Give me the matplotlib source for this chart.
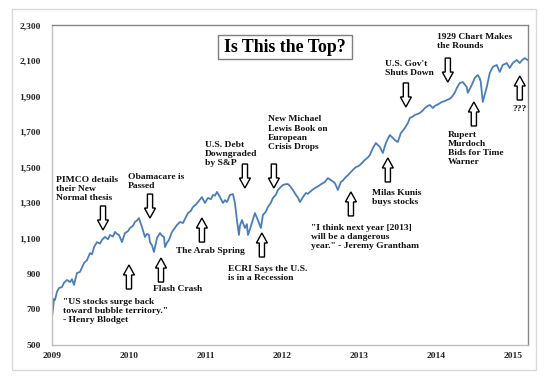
import matplotlib
matplotlib.use("Agg")
import matplotlib.pyplot as plt
import matplotlib.transforms as mtransforms
from matplotlib.patches import Polygon, Rectangle
from matplotlib.ticker import FuncFormatter

# ---------------- data ----------------
years = [
    2009.000, 2009.013, 2009.026, 2009.039, 2009.065, 2009.091, 2009.130, 2009.156, 2009.195, 2009.234,
    2009.260, 2009.286, 2009.325, 2009.364, 2009.390, 2009.417, 2009.456, 2009.495, 2009.521, 2009.547,
    2009.586, 2009.625, 2009.651, 2009.690, 2009.729, 2009.755, 2009.794, 2009.820, 2009.846, 2009.872,
    2009.911, 2009.950, 2009.989, 2010.015, 2010.054, 2010.080, 2010.106, 2010.132, 2010.171, 2010.210,
    2010.236, 2010.262, 2010.276, 2010.302, 2010.328, 2010.367, 2010.406, 2010.432, 2010.458, 2010.471,
    2010.497, 2010.523, 2010.562, 2010.601, 2010.627, 2010.666, 2010.705, 2010.744, 2010.770, 2010.809,
    2010.835, 2010.874, 2010.900, 2010.926, 2010.952, 2010.991, 2011.030, 2011.070, 2011.096, 2011.122,
    2011.148, 2011.187, 2011.226, 2011.252, 2011.278, 2011.317, 2011.356, 2011.382, 2011.408, 2011.434,
    2011.447, 2011.473, 2011.512, 2011.538, 2011.551, 2011.577, 2011.603, 2011.642, 2011.681, 2011.720,
    2011.746, 2011.785, 2011.811, 2011.850, 2011.876, 2011.915, 2011.941, 2011.981, 2012.007, 2012.046,
    2012.072, 2012.098, 2012.137, 2012.176, 2012.202, 2012.228, 2012.267, 2012.306, 2012.332, 2012.358,
    2012.397, 2012.423, 2012.462, 2012.488, 2012.527, 2012.553, 2012.592, 2012.631, 2012.657, 2012.683,
    2012.722, 2012.761, 2012.787, 2012.826, 2012.853, 2012.892, 2012.918, 2012.957, 2012.983, 2013.009,
    2013.048, 2013.074, 2013.113, 2013.139, 2013.178, 2013.217, 2013.243, 2013.269, 2013.308, 2013.347,
    2013.373, 2013.399, 2013.438, 2013.464, 2013.503, 2013.542, 2013.568, 2013.594, 2013.634, 2013.660,
    2013.699, 2013.725, 2013.764, 2013.790, 2013.829, 2013.855, 2013.894, 2013.920, 2013.959, 2013.985,
    2014.011, 2014.050, 2014.076, 2014.115, 2014.141, 2014.180, 2014.206, 2014.245, 2014.271, 2014.310,
    2014.349, 2014.375, 2014.401, 2014.414, 2014.440, 2014.466, 2014.505, 2014.544, 2014.570, 2014.583,
    2014.609, 2014.635, 2014.661, 2014.700, 2014.739, 2014.765, 2014.791, 2014.830, 2014.869, 2014.895,
    2014.921, 2014.960, 2014.999, 2015.025, 2015.051, 2015.090, 2015.116, 2015.155, 2015.194,
]
sp500 = [
    660, 700, 760, 753, 800, 820, 826, 850, 866, 854,
    870, 838, 905, 911, 935, 961, 978, 1017, 1010, 1051,
    1079, 1070, 1091, 1108, 1095, 1119, 1110, 1136, 1125, 1119,
    1079, 1130, 1140, 1158, 1170, 1192, 1200, 1214, 1164, 1108,
    1125, 1119, 1079, 1060, 1023, 1102, 1130, 1115, 1108, 1051,
    1075, 1091, 1136, 1160, 1175, 1192, 1186, 1220, 1242, 1255,
    1276, 1290, 1304, 1318, 1332, 1299, 1327, 1320, 1344, 1340,
    1361, 1332, 1299, 1315, 1304, 1344, 1349, 1299, 1203, 1119,
    1170, 1203, 1158, 1180, 1119, 1150, 1186, 1242, 1203, 1158,
    1231, 1250, 1276, 1300, 1327, 1345, 1372, 1390, 1400, 1405,
    1405, 1395, 1372, 1344, 1330, 1304, 1332, 1355, 1350, 1361,
    1375, 1383, 1392, 1400, 1410, 1417, 1439, 1428, 1420, 1411,
    1372, 1417, 1425, 1445, 1455, 1473, 1485, 1501, 1505, 1512,
    1530, 1541, 1555, 1569, 1608, 1636, 1625, 1614, 1580, 1636,
    1660, 1681, 1665, 1653, 1642, 1692, 1705, 1720, 1749, 1777,
    1785, 1794, 1800, 1805, 1820, 1833, 1845, 1850, 1833, 1845,
    1850, 1860, 1867, 1872, 1878, 1885, 1895, 1920, 1946, 1974,
    1979, 1965, 1951, 1918, 1940, 1963, 2002, 2019, 2000, 1979,
    1867, 1910, 1951, 2030, 2064, 2070, 2075, 2036, 2075, 2080,
    2086, 2058, 2086, 2095, 2103, 2086, 2100, 2114, 2103,
]
x_ticks = [2009, 2010, 2011, 2012, 2013, 2014, 2015]
y_ticks = [500, 700, 900, 1100, 1300, 1500, 1700, 1900, 2100, 2300]

title_text = "Is This the Top?"

# annotation texts: (text, x, y, horizontal alignment)
notes = [
    ("PIMCO details\ntheir New\nNormal thesis", 2009.052, 1377, "left"),
    ("Obamacare is\nPassed", 2009.989, 1420, "left"),
    ("U.S. Debt\nDowngraded\nby S&P", 2010.991, 1576, "left"),
    ("New Michael\nLewis Book on\nEuropean\nCrisis Drops", 2011.811, 1692, "left"),
    ("U.S. Gov't\nShuts Down", 2013.334, 2055, "left"),
    ("1929 Chart Makes\nthe Rounds", 2014.011, 2207, "left"),
    ("???", 2015.091, 1827, "center"),
    ("Rupert\nMurdoch\nBids for Time\nWarner", 2014.154, 1604, "left"),
    ("Milas Kunis\nbuys stocks", 2013.165, 1330, "left"),
    ("\"I think next year [2013]\nwill be a dangerous\nyear.\" - Jeremy Grantham", 2012.371, 1106, "left"),
    ("ECRI Says the U.S.\nis in a Recession", 2011.291, 902, "left"),
    ("The Arab Spring", 2010.614, 1029, "left"),
    ("Flash Crash", 2010.315, 815, "left"),
    ("\"US stocks surge back\ntoward bubble territory.\"\n- Henry Blodget", 2009.143, 690, "left"),
]

# block arrows: (x, tip value, direction)
arrows = [
    (2009.664, 1147, "down"),
    (2010.276, 1214, "down"),
    (2011.512, 1383, "down"),
    (2011.889, 1383, "down"),
    (2013.608, 1839, "down"),
    (2014.154, 1979, "down"),
    (2015.091, 2013, "up"),
    (2014.493, 1867, "up"),
    (2013.373, 1552, "up"),
    (2012.892, 1361, "up"),
    (2011.733, 1130, "up"),
    (2010.952, 1214, "up"),
    (2010.419, 989, "up"),
    (2010.002, 950, "up"),
]

# ---------------- figure ----------------
W, H = 556, 381
fig = plt.figure(figsize=(W / 100, H / 100), dpi=100)
fig.patch.set_facecolor("white")

SERIF = ["Liberation Serif", "DejaVu Serif"]

# outer light frame
fig.patches.append(Rectangle((12 / W, 1 - 370 / H), 524 / W, 361 / H,
                             transform=fig.transFigure, fill=False,
                             edgecolor="#d9d9d9", linewidth=1.0, zorder=0))

ax = fig.add_axes([52 / W, 1 - 345 / H, 476 / W, 320 / H])
ax.plot(years, sp500, color="#4a7ebb", linewidth=1.3, zorder=2,
        solid_joinstyle="round")

ax.set_xlim(2009, 2015.198)
ax.set_ylim(500, 2300)
ax.set_xticks(x_ticks)
ax.set_xticklabels([str(y) for y in x_ticks])
ax.set_yticks(y_ticks)
ax.yaxis.set_major_formatter(FuncFormatter(lambda v, p: f"{int(v):,}"))
ax.tick_params(axis="both", length=0)
ax.tick_params(axis="y", pad=8)
ax.tick_params(axis="x", pad=5)
for lab in ax.get_xticklabels() + ax.get_yticklabels():
    lab.set_family(SERIF)
    lab.set_fontweight("bold")
    lab.set_fontsize(6.8)
    lab.set_color("#262626")

ax.spines["left"].set_color("#bfbfbf")
ax.spines["bottom"].set_color("#bfbfbf")
ax.spines["top"].set_color("#868686")
ax.spines["right"].set_color("#868686")
for s in ax.spines.values():
    s.set_linewidth(1.0)

# annotations
for text, x, y, ha in notes:
    ax.text(x, y, text, ha=ha, va="center", family=SERIF, fontweight="bold",
            fontsize=6.8, color="#111111", linespacing=1.18, zorder=4)

# block arrows in inches relative to tip
L, HL, HW, SW = 0.24, 0.10, 0.055, 0.026
for x, tip, d in arrows:
    sgn = 1 if d == "down" else -1
    verts = [(-SW, sgn * L), (SW, sgn * L), (SW, sgn * HL), (HW, sgn * HL),
             (0, 0), (-HW, sgn * HL), (-SW, sgn * HL)]
    trans = fig.dpi_scale_trans + mtransforms.ScaledTranslation(x, tip, ax.transData)
    ax.add_patch(Polygon(verts, closed=True, transform=trans, facecolor="white",
                         edgecolor="black", linewidth=1.0, clip_on=False, zorder=5))

# title box
fig.patches.append(Rectangle((218 / W, 1 - 59 / H), 134 / W, 24 / H,
                             transform=fig.transFigure, facecolor="white",
                             edgecolor="#7f7f7f", linewidth=1.0, zorder=6))
fig.text(285 / W, 1 - 47.5 / H, title_text, ha="center", va="center",
         family=SERIF, fontweight="bold", fontsize=12.8, color="black", zorder=7)

fig.savefig("out.png", dpi=100)
